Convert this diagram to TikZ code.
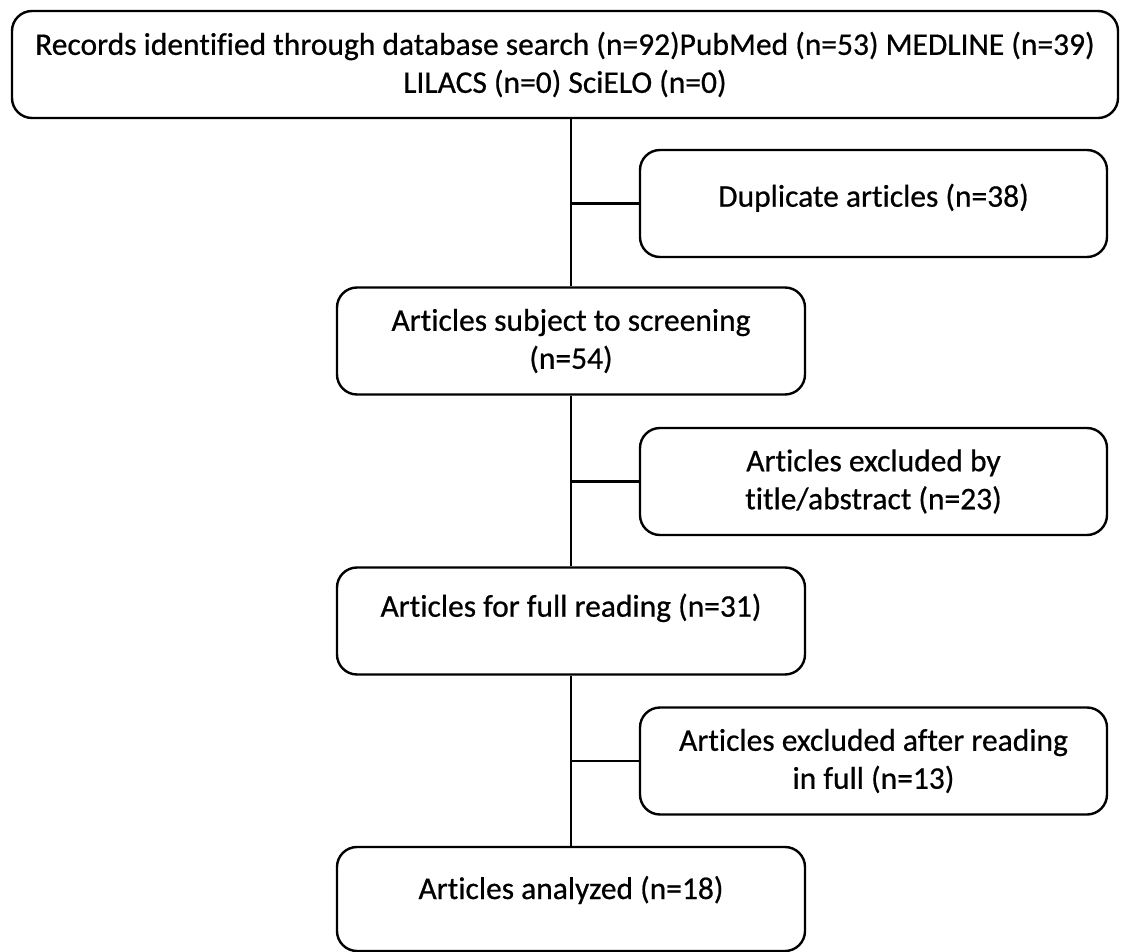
\documentclass[tikz,border=0pt]{standalone}
\usepackage{fontspec}
\setmainfont{Carlito}[Ligatures=NoCommon, FakeBold=0.6]
\begin{document}
\begin{tikzpicture}[x=1pt,y=-1pt,
  box/.style={draw, line width=2.4pt, rounded corners=20pt, align=center,
    inner sep=0pt, font=\fontsize{31.5}{38}\selectfont},
  side/.style={box, minimum width=467pt, minimum height=107pt},
  main/.style={box, minimum width=468pt, minimum height=107pt},
  conn/.style={line width=2.4pt}]
\useasboundingbox (0,0) rectangle (1122,952);
\node[box, minimum width=1106pt, minimum height=107pt] (top) at (565,64.5)
  {Records identified through database search (n=92)PubMed (n=53) MEDLINE (n=39)\\LILACS (n=0) SciELO (n=0)};
\node[side, text height=20pt, text depth=13.6pt] (dup) at (873.5,203.5) {Duplicate articles (n=38)};
\node[main] (screen) at (571,341) {Articles subject to screening\\(n=54)};
\node[side] (ex1) at (873.5,481.5) {Articles excluded by\\title/abstract (n=23)};
\node[main, text height=15pt, text depth=23.6pt] (full) at (571,621) {Articles for full reading (n=31)};
\node[side] (ex2) at (873.5,761) {Articles excluded after reading\\in full (n=13)};
\node[main, minimum height=104pt, text height=18pt, text depth=18pt] (ana) at (571,899) {Articles analyzed (n=18)};
\draw[conn] (screen.north |- top.south) -- (screen.north);
\draw[conn] (screen.south) -- (full.north);
\draw[conn] (full.south) -- (ana.north);
\draw[conn] (screen.north |- dup.west) -- (dup.west);
\draw[conn] (screen.north |- ex1.west) -- (ex1.west);
\draw[conn] (screen.north |- ex2.west) -- (ex2.west);
\end{tikzpicture}
\end{document}
